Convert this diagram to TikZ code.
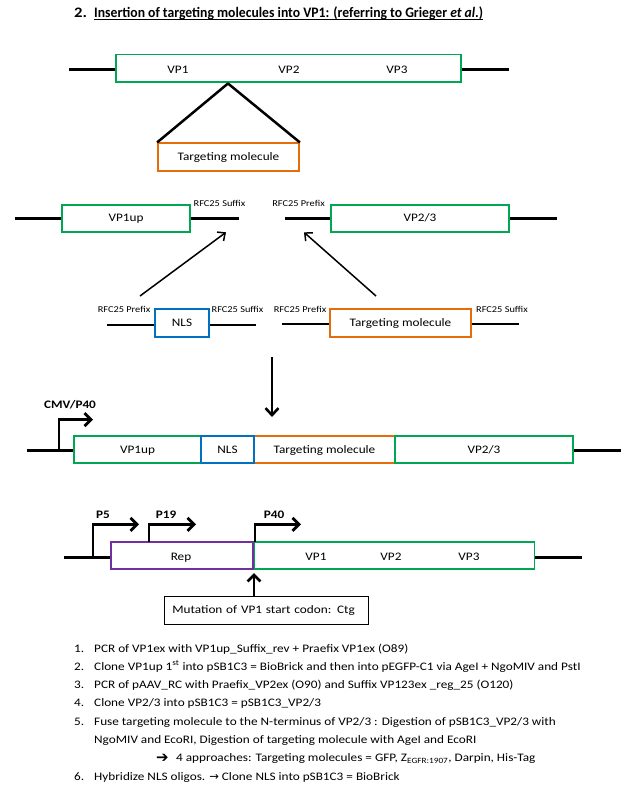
\documentclass[tikz,border=0pt]{standalone}
\usepackage{fontspec}
\setmainfont{Carlito}[FakeStretch=1.15]
\newfontfamily\dejavu{DejaVu Sans}
\usepackage{graphicx}
\usetikzlibrary{arrows.meta}
\definecolor{vpgreen}{RGB}{0,166,81}
\definecolor{tmorange}{RGB}{228,108,10}
\definecolor{nlsblue}{RGB}{0,112,192}
\definecolor{reppurple}{RGB}{112,48,160}
\tikzset{
  dna/.style={line width=2.7pt},
  boxbase/.style={line width=1.8pt, fill=white, inner sep=0pt, text height=7.4pt, text depth=0pt,
    font=\fontsize{11.5}{13}\selectfont},
  gbox/.style={boxbase, draw=vpgreen},
  obox/.style={boxbase, draw=tmorange},
  bbox/.style={boxbase, draw=nlsblue},
  pbox/.style={boxbase, draw=reppurple},
  lbl/.style={inner sep=0pt, anchor=base, font=\fontsize{11.5}{13}\selectfont},
  plbl/.style={inner sep=0pt, anchor=base, font=\fontsize{11.5}{13}\selectfont\bfseries},
  rfc/.style={inner sep=0pt, anchor=base, font=\fontsize{9}{10}\selectfont},
  listnum/.style={inner sep=0pt, anchor=base west, font=\fontsize{11.5}{13}\selectfont},
  thinarrow/.style={line width=1.5pt, -{Straight Barb[length=6pt,width=11pt]}},
  bigarrow/.style={line width=2.6pt, -{Straight Barb[length=7pt,width=13pt]}},
  promarrow/.style={line width=2.8pt, -{Straight Barb[length=6.5pt,width=13pt]}},
}
\begin{document}
\begin{tikzpicture}[x=1pt,y=-1pt]
\useasboundingbox[fill=white] (0,0) rectangle (627,799);

% ---------- title
\node[inner sep=0pt, anchor=base west, font=\fontsize{14.5}{16}\selectfont\bfseries] (tnum) at (74,17.3) {2.};
\node[inner sep=0pt, anchor=base west, font=\fontsize{14.5}{16}\selectfont\bfseries] (title) at (94,17.3)
  {\resizebox{389pt}{\height}{Insertion of targeting molecules into VP1: (referring to Grieger \textit{et al.})}};
\draw[line width=0.9pt] ([yshift=-2pt]title.base west) -- ([yshift=-2pt]title.base east);

% ---------- row 1
\coordinate (r1L) at (69,69.3);
\coordinate (r1R) at (509,69.3);
\node[gbox, minimum width=345pt, minimum height=27.5pt] (vp) at (288.5,68.3) {};
\draw[dna] (r1L) -- (r1L -| vp.west);
\draw[dna] (r1R -| vp.east) -- (r1R);
\node[lbl] (r1vp1) at (178,73.3) {VP1};
\node[lbl] (r1vp2) at (289,73.3) {VP2};
\node[lbl] (r1vp3) at (397,73.3) {VP3};
\coordinate (apex) at (228,83.5);
\node[obox, minimum width=141pt, minimum height=27.7pt] (tm1) at (228.5,157.2) {Targeting molecule};
\draw[line width=2.5pt, line join=round] (tm1.north west) -- (apex) -- (tm1.north east);

% ---------- row 2
\coordinate (r2aL) at (15,218.7);
\coordinate (r2aR) at (239,218.7);
\draw[dna] (r2aL) -- (r2aR);
\node[gbox, minimum width=128pt, minimum height=27.3pt] (vp1up) at (126,218.3) {VP1up};
\node[rfc] (sfx1) at (219.5,206.7) {RFC25 Suffix};
\node[rfc] (pfx1) at (298.5,206.7) {RFC25 Prefix};
\coordinate (r2bL) at (285,218.7);
\coordinate (r2bR) at (557,218.7);
\draw[dna] (r2bL) -- (r2bR);
\node[gbox, minimum width=178pt, minimum height=27.3pt] (vp23) at (420,218.3) {VP2/3};

% NLS fragment
\coordinate (nlsL) at (107,325);
\coordinate (nlsR) at (256,325);
\draw[dna] (nlsL) -- (nlsR);
\node[bbox, minimum width=54pt, minimum height=27.4pt] (nls) at (182,323) {NLS};
\node[rfc] (pfx2) at (124,312.7) {RFC25 Prefix};
\node[rfc] (sfx2) at (237.5,312.7) {RFC25 Suffix};

% Targeting fragment
\coordinate (tmL) at (282,324);
\coordinate (tmR) at (519,324);
\draw[dna] (tmL) -- (tmR);
\node[obox, minimum width=141pt, minimum height=27.4pt] (tm2) at (400.5,323) {Targeting molecule};
\node[rfc] (pfx3) at (300,312.7) {RFC25 Prefix};
\node[rfc] (sfx3) at (502,312.7) {RFC25 Suffix};

% diagonal arrows
\coordinate (a1s) at (140,296);
\coordinate (a1e) at (226,232.3);
\coordinate (a2s) at (376,296);
\coordinate (a2e) at (304,232.3);
\draw[thinarrow] (a1s) -- (a1e);
\draw[thinarrow] (a2s) -- (a2e);

% down arrow
\coordinate (dS) at (272,357);
\coordinate (dE) at (272,417);
\draw[bigarrow] (dS) -- (dE);

% ---------- row 3
\coordinate (r3L) at (27,450.3);
\coordinate (r3R) at (621,450.3);
\draw[dna] (r3L) -- (r3R);
\node[gbox, minimum width=127pt, minimum height=26.7pt] (c1) at (137.5,449.7) {VP1up};
\node[obox, minimum width=141pt, minimum height=26.7pt] (c3) at (324.5,449.7) {Targeting molecule};
\node[bbox, minimum width=53pt, minimum height=26.7pt] (c2) at (227.5,449.7) {NLS};
\node[gbox, minimum width=178pt, minimum height=26.7pt] (c4) at (484,449.7) {VP2/3};
\coordinate (cmvB) at (59,450.3);
\coordinate (cmvT) at (59,419.7);
\coordinate (cmvE) at (93,419.7);
\draw[promarrow] (cmvB) -- (cmvT) -- (cmvE);
\node[plbl] (cmv) at (70,408.3) {CMV/P40};

% ---------- row 4
\coordinate (r4L) at (64,557.7);
\coordinate (r4R) at (582,557.7);
\draw[dna] (r4L) -- (r4R);
\node[pbox, minimum width=142pt, minimum height=27pt] (rep) at (182,555.5) {};
\node[gbox, minimum width=280pt, minimum height=27pt] (vpb) at (394.4,555.5) {};
\node[lbl] (replbl) at (181,560) {Rep};
\node[lbl] (r4vp1) at (316,560) {VP1};
\node[lbl] (r4vp2) at (391,560) {VP2};
\node[lbl] (r4vp3) at (469,560) {VP3};

\coordinate (p5B) at (93,557.7);
\coordinate (p5T) at (93,524.3);
\coordinate (p5E) at (139,524.3);
\draw[promarrow] (p5B) -- (p5T) -- (p5E);
\node[plbl] (p5) at (103,518.3) {P5};

\coordinate (p19B) at (149,542);
\coordinate (p19T) at (149,524.3);
\coordinate (p19E) at (196,524.3);
\draw[promarrow] (p19B) -- (p19T) -- (p19E);
\node[plbl] (p19) at (166,518.3) {P19};

\coordinate (p40B) at (255,542);
\coordinate (p40T) at (255,524.3);
\coordinate (p40E) at (301,524.3);
\draw[promarrow] (p40B) -- (p40T) -- (p40E);
\node[plbl] (p40) at (274,518.3) {P40};

\node[draw, line width=0.8pt, anchor=north west, minimum height=28.6pt, text width=188pt,
      inner xsep=8pt, inner ysep=0pt, align=left, text height=7.4pt, text depth=2pt,
      font=\fontsize{11.5}{13}\selectfont] (mut) at (164,595.7) {Mutation of VP1 start codon: Ctg};
\coordinate (mutTip) at (254,573);
\draw[promarrow] (mut.north -| mutTip) -- (mutTip);

% ---------- list
\node[listnum] (n1) at (74,652) {1.};
\node[listnum] (t1) at (94,652) {PCR of VP1ex with VP1up\_Suffix\_rev + Praefix VP1ex (O89)};
\node[listnum] (n2) at (74,670.3) {2.};
\node[listnum] (t2) at (94,670.3) {Clone VP1up 1\textsuperscript{st} into pSB1C3 = BioBrick and then into pEGFP-C1 via AgeI + NgoMIV and PstI};
\node[listnum] (n3) at (74,688.6) {3.};
\node[listnum] (t3) at (94,688.6) {PCR of pAAV\_RC with Praefix\_VP2ex (O90) and Suffix VP123ex \_reg\_25 (O120)};
\node[listnum] (n4) at (74,706.9) {4.};
\node[listnum] (t4) at (94,706.9) {Clone VP2/3 into pSB1C3 = pSB1C3\_VP2/3};
\node[listnum] (n5) at (74,725.2) {5.};
\node[listnum] (t5) at (94,725.2) {Fuse targeting molecule to the N-terminus of VP2/3 : Digestion of pSB1C3\_VP2/3 with};
\node[listnum] (t5b) at (94,743.5) {NgoMIV and EcoRI, Digestion of targeting molecule with AgeI and EcoRI};
\node[listnum, font=\fontsize{15}{16}\selectfont\dejavu\bfseries] (arr) at (156,762.8) {➔};
\node[listnum] (t5c) at (176,761.8) {4 approaches: Targeting molecules = GFP, Z\textsubscript{EGFR:1907}, Darpin, His-Tag};
\node[listnum] (n6) at (74,780.1) {6.};
\node[listnum] (t6) at (94,780.1) {Hybridize NLS oligos. {\dejavu\fontsize{11.5}{13}\selectfont →} Clone NLS into pSB1C3 = BioBrick};
\end{tikzpicture}
\end{document}
